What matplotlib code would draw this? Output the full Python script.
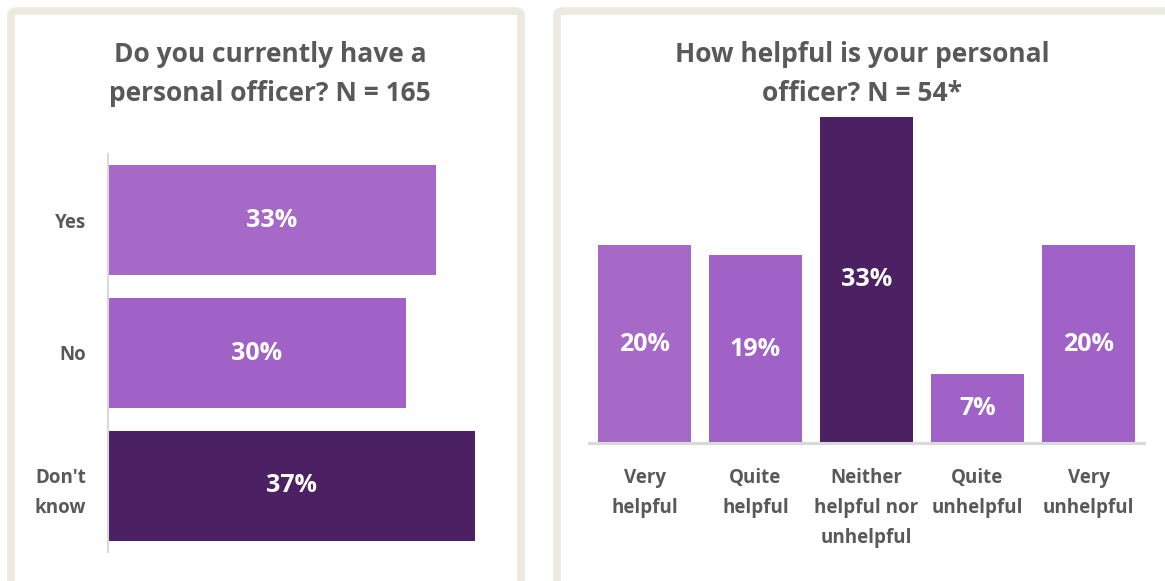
import matplotlib
matplotlib.use("Agg")
import matplotlib.pyplot as plt
from matplotlib.patches import FancyBboxPatch

# Question 1: do you have a personal officer
have_labels = ["Yes", "No", "Don't\nknow"]
have_pct = [33, 30, 37]
have_colors = ["#A769C8", "#A062C6", "#4B2164"]

# Question 2: how helpful is the personal officer
help_labels = ["Very\nhelpful", "Quite\nhelpful", "Neither\nhelpful nor\nunhelpful",
               "Quite\nunhelpful", "Very\nunhelpful"]
help_pct = [20, 19, 33, 7, 20]
help_colors = ["#A769C8", "#A062C6", "#4B2164", "#A062C6", "#A062C6"]

TEXT = "#595959"
FRAME = "#ECE9DF"
AXIS = "#D9D9D9"

plt.rcParams["font.family"] = ["Open Sans", "DejaVu Sans"]
plt.rcParams["font.weight"] = "bold"

W, H = 1165, 581
fig = plt.figure(figsize=(W / 100, H / 100), dpi=100)


def box(x0, y0, x1, y1):
    # pixel coords (top-left origin) -> figure fraction rect
    return [x0 / W, 1 - y1 / H, (x1 - x0) / W, (y1 - y0) / H]


# panel frames, open at the bottom edge
for x0, x1 in [(11, 521), (557, 1200)]:
    fig.patches.append(FancyBboxPatch(
        (x0 / W, -0.1), (x1 - x0) / W, 1.1 - 11 / H,
        boxstyle="round,pad=0,rounding_size=0.006",
        transform=fig.transFigure, facecolor="none",
        edgecolor=FRAME, linewidth=5.5))

# left panel: horizontal bars
ax1 = fig.add_axes(box(108, 154, 510, 552))
ypos = list(range(len(have_pct)))
ax1.barh(ypos, have_pct, height=0.83, color=have_colors)
ax1.set_ylim(2.5, -0.5)
ax1.set_xlim(0, 40.5)
for y, v in zip(ypos, have_pct):
    ax1.text(v / 2, y, f"{v}%", ha="center", va="center",
             color="white", fontsize=18, fontweight="bold")
ax1.set_yticks(ypos)
ax1.set_yticklabels(have_labels, color=TEXT, fontsize=13.5, fontweight="bold",
                    linespacing=1.65)
ax1.tick_params(axis="y", length=0, pad=16)
ax1.set_xticks([])
for s in ["top", "right", "bottom"]:
    ax1.spines[s].set_visible(False)
ax1.spines["left"].set_color(AXIS)
ax1.spines["left"].set_linewidth(1.5)
fig.text(270 / W, 1 - 74 / H, "Do you currently have a\npersonal officer? N = 165",
         ha="center", va="center", color=TEXT, fontsize=19, fontweight="bold",
         linespacing=1.6)

# right panel: vertical bars
ax2 = fig.add_axes(box(589, 93, 1144, 443))
xpos = list(range(len(help_pct)))
ax2.bar(xpos, help_pct, width=0.845, color=help_colors)
ax2.set_xlim(-0.5, 4.5)
ax2.set_ylim(0, 35.4)
for x, v in zip(xpos, help_pct):
    ax2.text(x, v / 2, f"{v}%", ha="center", va="center",
             color="white", fontsize=18, fontweight="bold")
ax2.set_xticks(xpos)
ax2.set_xticklabels(help_labels, color=TEXT, fontsize=13.5, fontweight="bold",
                    va="top", linespacing=1.65)
ax2.tick_params(axis="x", length=0, pad=18)
ax2.set_yticks([])
for s in ["top", "right", "left"]:
    ax2.spines[s].set_visible(False)
ax2.spines["bottom"].set_color(AXIS)
ax2.spines["bottom"].set_linewidth(2.2)
fig.text(862 / W, 1 - 74 / H, "How helpful is your personal\nofficer? N = 54*",
         ha="center", va="center", color=TEXT, fontsize=19, fontweight="bold",
         linespacing=1.6)

fig.savefig("out.png", dpi=100, facecolor="white")
